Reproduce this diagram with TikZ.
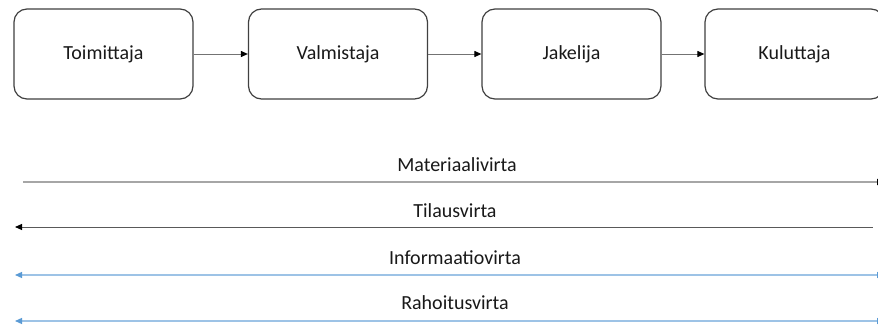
\documentclass[tikz,border=0pt]{standalone}
\usepackage{fontspec}
\setmainfont{Carlito}
\usetikzlibrary{arrows.meta,positioning}
\definecolor{flowblue}{HTML}{9DC3E6}
\definecolor{headblue}{HTML}{5B9BD5}
\tikzset{
	blacktip/.tip={Triangle[length=7pt,width=6pt,black]},
	bluetip/.tip={Triangle[length=7pt,width=6pt,headblue]},
	chainbox/.style={draw=black!75, line width=1.2pt, rounded corners=13pt, minimum width=179pt, minimum height=90pt, font=\fontsize{20}{24}\selectfont, text=black!90},
	chainarrow/.style={draw=black!55, line width=1pt, -blacktip},
	flowlabel/.style={font=\fontsize{20}{24}\selectfont, text=black!90}
}
\begin{document}
\begin{tikzpicture}[x=1pt, y=-1pt]
			%%%%% FRAME %%%%%
			\clip (0, 0) rectangle (878, 324);
			\fill[white] (0, 0) rectangle (878, 324);
			
			%%%%% CHAIN %%%%%
			\node[chainbox] (supplier) at (103.5, 54) {Toimittaja};
			\node[chainbox] (maker) at (338, 54) {Valmistaja};
			\node[chainbox] (dealer) at (571.5, 54) {Jakelija};
			\node[chainbox] (consumer) at (794.5, 54) {Kuluttaja};
			
			\draw[chainarrow] (supplier) -- (maker);
			\draw[chainarrow] (maker) -- (dealer);
			\draw[chainarrow] (dealer) -- (consumer);
			
			%%%%% FLOWS %%%%%
			\coordinate (matA) at (23, 182);
			\coordinate (matB) at (884, 182);
			\coordinate (ordA) at (15, 227);
			\coordinate (ordB) at (873, 227);
			\coordinate (infA) at (15, 275);
			\coordinate (infB) at (884, 275);
			\coordinate (finA) at (15, 321);
			\coordinate (finB) at (884, 321);
			
			\draw[draw=black!35, line width=1.6pt, -blacktip] (matA) -- (matB);
			\draw[draw=black!65, line width=1pt, blacktip-] (ordA) -- (ordB);
			\draw[draw=flowblue, line width=1.2pt, bluetip-bluetip] (infA) -- (infB);
			\draw[draw=flowblue, line width=1.2pt, bluetip-bluetip] (finA) -- (finB);
			
			\node[flowlabel] (matlabel) at (457, 165) {Materiaalivirta};
			\node[flowlabel] (ordlabel) at (455, 211) {Tilausvirta};
			\node[flowlabel] (inflabel) at (455, 258) {Informaatiovirta};
			\node[flowlabel] (finlabel) at (455, 303) {Rahoitusvirta};
			
			%%%%% END %%%%%
		\end{tikzpicture}
\end{document}
